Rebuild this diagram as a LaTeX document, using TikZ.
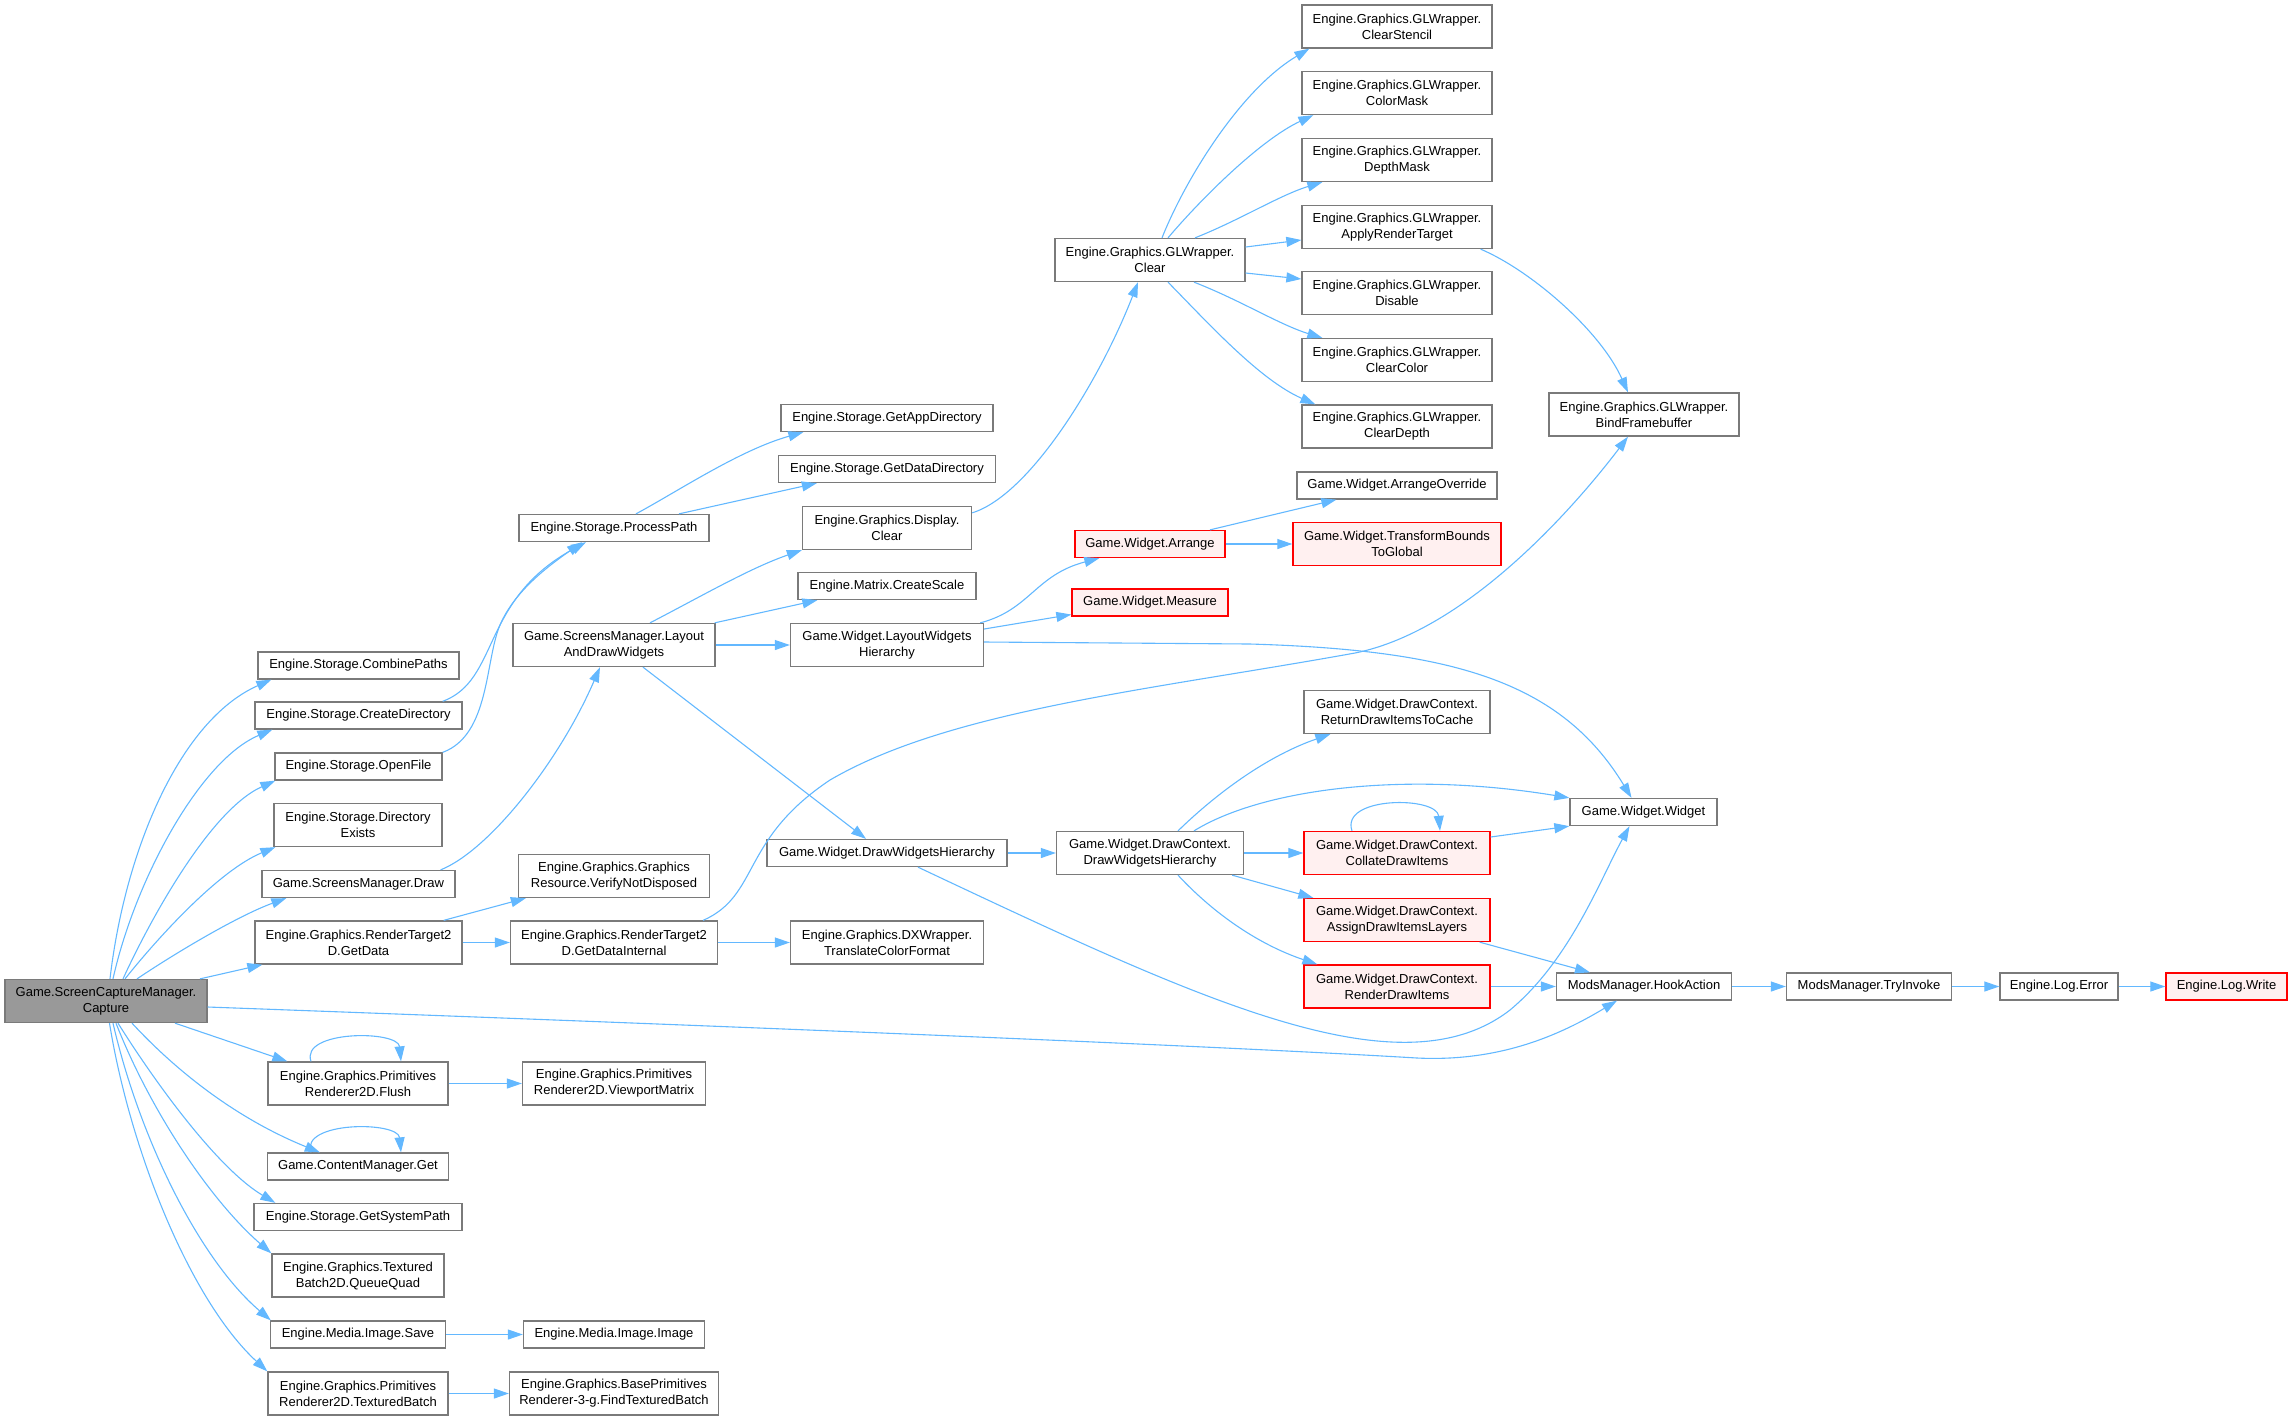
\documentclass[tikz,border=0pt]{standalone}
\usepackage{fontspec}
\setmainfont{Liberation Sans}
\usetikzlibrary{arrows.meta,calc}
\definecolor{edgec}{HTML}{63B8FF}
\definecolor{bordc}{HTML}{7A7A7A}
\definecolor{redfill}{HTML}{FFF0F0}
\definecolor{rootfill}{HTML}{999999}
\tikzset{
  box/.style={draw=bordc, fill=white, line width=0.65pt, inner sep=0pt, align=center,
    font=\fontsize{6.5}{8}\selectfont},
  hone/.style={minimum height=13.5pt},
  htwo/.style={minimum height=21.5pt},
  wd/.style={minimum width=#1*0.5pt},
  redbox/.style={box, draw=red, fill=redfill},
  rootbox/.style={box, fill=rootfill},
  e/.style={draw=edgec, line width=0.55pt, -{Triangle[length=7.5pt,width=5pt]}}
}
\begin{document}
\begin{tikzpicture}[x=0.5pt,y=-0.5pt]
\useasboundingbox (0,0) rectangle (2292,1420);
% column 0
\node[rootbox,htwo,wd=202] (cap) at (106,1001) {Game.ScreenCaptureManager.\\Capture};
% column 1
\node[box,hone,wd=201] (comb) at (358.5,665.5) {Engine.Storage.CombinePaths};
\node[box,hone,wd=207] (cdir) at (358.5,715.5) {Engine.Storage.CreateDirectory};
\node[box,hone,wd=167] (open) at (358.5,766.5) {Engine.Storage.OpenFile};
\node[box,htwo,wd=168] (dexi) at (358,825) {Engine.Storage.Directory\\Exists};
\node[box,hone,wd=193] (smdraw) at (358.5,884) {Game.ScreensManager.Draw};
\node[box,htwo,wd=207] (gdata) at (358.5,942.5) {Engine.Graphics.RenderTarget2\\D.GetData};
\node[box,htwo,wd=180] (flush) at (358,1083.5) {Engine.Graphics.Primitives\\Renderer2D.Flush};
\node[box,hone,wd=181] (cget) at (358,1166.5) {Game.ContentManager.Get};
\node[box,hone,wd=208] (gsys) at (358,1217) {Engine.Storage.GetSystemPath};
\node[box,htwo,wd=172] (qquad) at (358,1275.5) {Engine.Graphics.Textured\\Batch2D.QueueQuad};
\node[box,hone,wd=175] (isave) at (358,1334.5) {Engine.Media.Image.Save};
\node[box,htwo,wd=180] (tbatch) at (358,1393.5) {Engine.Graphics.Primitives\\Renderer2D.TexturedBatch};
% column 2
\node[box,htwo,wd=183] (vmat) at (614,1083.5) {Engine.Graphics.Primitives\\Renderer2D.ViewportMatrix};
\node[box,hone,wd=181] (iimg) at (614,1334.5) {Engine.Media.Image.Image};
\node[box,htwo,wd=209] (ftb) at (614,1393.5) {Engine.Graphics.BasePrimitives\\Renderer-3-g.FindTexturedBatch};
\node[box,hone,wd=190] (ppath) at (614,528) {Engine.Storage.ProcessPath};
\node[box,htwo,wd=202] (lad) at (614,645) {Game.ScreensManager.Layout\\AndDrawWidgets};
\node[box,htwo,wd=191] (vnd) at (614,876) {Engine.Graphics.Graphics\\Resource.VerifyNotDisposed};
\node[box,htwo,wd=207] (gdi) at (614,942.5) {Engine.Graphics.RenderTarget2\\D.GetDataInternal};
% column 3
\node[box,hone,wd=212] (gapp) at (887,418) {Engine.Storage.GetAppDirectory};
\node[box,hone,wd=217] (gdd) at (887,469) {Engine.Storage.GetDataDirectory};
\node[box,htwo,wd=169] (dclr) at (887,528) {Engine.Graphics.Display.\\Clear};
\node[box,hone,wd=178] (cscale) at (887,586) {Engine.Matrix.CreateScale};
\node[box,htwo,wd=193] (lwh) at (887,645) {Game.Widget.LayoutWidgets\\Hierarchy};
\node[box,hone,wd=240] (dwh) at (887,853) {Game.Widget.DrawWidgetsHierarchy};
\node[box,htwo,wd=193] (tcf) at (887,942.5) {Engine.Graphics.DXWrapper.\\TranslateColorFormat};
% column 4
\node[box,htwo,wd=190] (glclr) at (1150,260) {Engine.Graphics.GLWrapper.\\Clear};
\node[redbox,hone,wd=150] (arr) at (1150,544) {Game.Widget.Arrange};
\node[redbox,hone,wd=156] (meas) at (1150,602.5) {Game.Widget.Measure};
\node[box,htwo,wd=187] (dcdwh) at (1150,853) {Game.Widget.DrawContext.\\DrawWidgetsHierarchy};
% column 5
\node[box,htwo,wd=190] (cst) at (1397,26.5) {Engine.Graphics.GLWrapper.\\ClearStencil};
\node[box,htwo,wd=190] (cmask) at (1397,93) {Engine.Graphics.GLWrapper.\\ColorMask};
\node[box,htwo,wd=190] (dmask) at (1397,160) {Engine.Graphics.GLWrapper.\\DepthMask};
\node[box,htwo,wd=190] (art) at (1397,227) {Engine.Graphics.GLWrapper.\\ApplyRenderTarget};
\node[box,htwo,wd=190] (dis) at (1397,293) {Engine.Graphics.GLWrapper.\\Disable};
\node[box,htwo,wd=190] (cclr) at (1397,360) {Engine.Graphics.GLWrapper.\\ClearColor};
\node[box,htwo,wd=190] (cdep) at (1397,426.5) {Engine.Graphics.GLWrapper.\\ClearDepth};
\node[box,hone,wd=200] (aov) at (1397,485.5) {Game.Widget.ArrangeOverride};
\node[redbox,htwo,wd=208] (tbg) at (1397,544) {Game.Widget.TransformBounds\\ToGlobal};
\node[box,htwo,wd=186] (rdc) at (1397,712) {Game.Widget.DrawContext.\\ReturnDrawItemsToCache};
\node[redbox,htwo,wd=186] (cdi) at (1397,853) {Game.Widget.DrawContext.\\CollateDrawItems};
\node[redbox,htwo,wd=186] (adl) at (1397,920) {Game.Widget.DrawContext.\\AssignDrawItemsLayers};
\node[redbox,htwo,wd=186] (rdi) at (1397,986.5) {Game.Widget.DrawContext.\\RenderDrawItems};
% column 6+
\node[box,htwo,wd=190] (bfb) at (1644,414.5) {Engine.Graphics.GLWrapper.\\BindFramebuffer};
\node[box,hone,wd=147] (ww) at (1643.5,812) {Game.Widget.Widget};
\node[box,hone,wd=175] (hook) at (1644,986.5) {ModsManager.HookAction};
\node[box,hone,wd=165] (tryi) at (1869,986.5) {ModsManager.TryInvoke};
\node[box,hone,wd=118] (lerr) at (2059,986.5) {Engine.Log.Error};
\node[redbox,hone,wd=121] (lwrite) at (2226.5,986.5) {Engine.Log.Write};

% ---- edges from Capture (upper)
\draw[e] ($(cap.north)+(4,0)$) .. controls (125,850) and (180,720) .. ($(comb.south west)+(14,0)$);
\draw[e] ($(cap.north)+(7,0)$) .. controls (135,880) and (200,760) .. ($(cdir.south west)+(18,0)$);
\draw[e] ($(cap.north)+(17,0)$) .. controls (150,920) and (210,810) .. ($(open.south west)+(1,0)$);
\draw[e] ($(cap.north)+(19,0)$) .. controls (160,935) and (220,870) .. ($(dexi.south west)+(2,0)$);
\draw[e] ($(cap.north)+(31,0)$) .. controls (180,950) and (240,915) .. ($(smdraw.south west)+(25,0)$);
\draw[e] ($(cap.north)+(94,0)$) -- ($(gdata.south west)+(8,0)$);
\draw[e] ($(cap.east)+(0,6)$) .. controls (700,1025) and (1200,1045) .. (1417,1058)
  .. controls (1500,1062) and (1560,1035) .. ($(hook.south)+(-27,0)$);
% ---- edges from Capture (lower)
\draw[e] ($(cap.south)+(69,0)$) -- ($(flush.north west)+(20,0)$);
\draw[e] ($(cap.south)+(26,0)$) .. controls (180,1075) and (240,1120) .. ($(cget.north west)+(53,0)$);
\draw[e] ($(cap.south)+(12,0)$) .. controls (160,1090) and (220,1170) .. ($(gsys.north west)+(22,0)$);
\draw[e] ($(cap.south)+(10,0)$) .. controls (150,1110) and (210,1200) .. (qquad.north west);
\draw[e] ($(cap.south)+(7,0)$) .. controls (140,1140) and (200,1260) .. ($(isave.north west)+(1,0)$);
\draw[e] ($(cap.south)+(3.5,0)$) .. controls (130,1150) and (190,1300) .. (tbatch.north west);
% self loops
\draw[e] ($(flush.north)+(-47,0)$) .. controls (300,1030) and (398,1030) .. ($(flush.north)+(43,0)$);
\draw[e] ($(cget.north)+(-47,0)$) .. controls (300,1121) and (398,1121) .. ($(cget.north)+(43,0)$);
\draw[e] ($(cdi.north)+(-45,0)$) .. controls (1340,796) and (1437,796) .. ($(cdi.north)+(43,0)$);
% column 1 outgoing
\draw[e] ($(cdir.north east)+(-20,0)$) .. controls (500,680) and (480,600) .. ($(ppath.south)+(-28,0)$);
\draw[e] (open.north east) .. controls (490,735) and (485,660) .. (500,625)
  .. controls (515,590) and (550,565) .. ($(ppath.south)+(-32,0)$);
\draw[e] ($(smdraw.north east)+(-15,0)$) .. controls (490,850) and (560,760) .. ($(lad.south)+(-14,0)$);
\draw[e] ($(gdata.north east)+(-19,0)$) -- ($(vnd.south west)+(8,0)$);
\draw[e] (gdata.east) -- (gdi.west);
\draw[e] (flush.east) -- (vmat.west);
\draw[e] (isave.east) -- (iimg.west);
\draw[e] (tbatch.east) -- (ftb.west);
% column 2 outgoing
\draw[e] ($(ppath.north)+(22,0)$) .. controls (680,490) and (740,450) .. ($(gapp.south west)+(23,0)$);
\draw[e] ($(ppath.north)+(65,0)$) -- ($(gdd.south west)+(39,0)$);
\draw[e] ($(lad.north)+(36,0)$) .. controls (700,597) and (750,568) .. (dclr.south west);
\draw[e] ($(lad.north east)+(-1,0)$) -- ($(cscale.south west)+(20,0)$);
\draw[e] (lad.east) -- (lwh.west);
\draw[e] ($(lad.south)+(29,0)$) -- ($(dwh.north)+(-21,0)$);
\draw[e] (gdi.east) -- (tcf.west);
\draw[e] ($(gdi.north east)+(-15,0)$) .. controls (760,895) and (740,840) .. (830,780)
  .. controls (950,710) and (1150,690) .. (1355,653)
  .. controls (1470,630) and (1580,500) .. ($(bfb.south)+(-16,0)$);
% column 3 outgoing
\draw[e] ($(dclr.north east)+(0,7)$) .. controls (1030,495) and (1100,380) .. ($(glclr.south)+(-12,0)$);
\draw[e] ($(lwh.north east)+(-4,0)$) .. controls (1030,610) and (1035,575) .. ($(arr.south west)+(25,0)$);
\draw[e] ($(lwh.east)+(0,-16)$) -- ($(meas.west)+(0,12)$);
\draw[e] ($(lwh.east)+(0,-3)$) -- (1250,644) .. controls (1450,650) and (1560,680) .. ($(ww.north)+(-12,0)$);
\draw[e] (dwh.east) -- (dcdwh.west);
\draw[e] ($(dwh.south)+(31,0)$) .. controls (1200,1000) and (1400,1095) .. (1510,1010)
  .. controls (1570,960) and (1600,880) .. ($(ww.south)+(-14,0)$);
% GL clear fan
\draw[e] ($(glclr.north)+(12,0)$) .. controls (1185,180) and (1240,90) .. ($(cst.south west)+(8,0)$);
\draw[e] ($(glclr.north)+(18,0)$) .. controls (1200,200) and (1260,140) .. ($(cmask.south west)+(12,0)$);
\draw[e] ($(glclr.north)+(45,0)$) .. controls (1240,220) and (1280,195) .. ($(dmask.south west)+(21,0)$);
\draw[e] ($(glclr.east)+(0,-13)$) -- ($(art.west)+(0,13)$);
\draw[e] ($(glclr.east)+(0,13)$) -- ($(dis.west)+(0,-14)$);
\draw[e] ($(glclr.south)+(44,0)$) .. controls (1240,300) and (1280,325) .. ($(cclr.north west)+(21,0)$);
\draw[e] ($(glclr.south)+(18,0)$) .. controls (1210,325) and (1260,380) .. ($(cdep.north west)+(14,0)$);
\draw[e] ($(art.south east)+(-12,0)$) .. controls (1530,270) and (1600,330) .. ($(bfb.north)+(-16,0)$);
% Arrange
\draw[e] ($(arr.north)+(60,0)$) -- ($(aov.south west)+(40,0)$);
\draw[e] (arr.east) -- (tbg.west);
% DrawContext
\draw[e] ($(dcdwh.north)+(28,0)$) .. controls (1220,790) and (1270,755) .. ($(rdc.south west)+(27,0)$);
\draw[e] ($(dcdwh.north)+(44,0)$) .. controls (1260,790) and (1400,770) .. (ww.north west);
\draw[e] (dcdwh.east) -- (cdi.west);
\draw[e] ($(dcdwh.south east)+(-12,0)$) -- ($(adl.north west)+(10,0)$);
\draw[e] ($(dcdwh.south)+(28,0)$) .. controls (1215,915) and (1260,945) .. ($(rdi.north west)+(14,0)$);
\draw[e] ($(cdi.east)+(0,-16)$) -- (ww.south west);
\draw[e] ($(adl.south east)+(-11,0)$) -- ($(hook.north)+(-54,0)$);
\draw[e] (rdi.east) -- (hook.west);
\draw[e] (hook.east) -- (tryi.west);
\draw[e] (tryi.east) -- (lerr.west);
\draw[e] (lerr.east) -- (lwrite.west);
\end{tikzpicture}
\end{document}
